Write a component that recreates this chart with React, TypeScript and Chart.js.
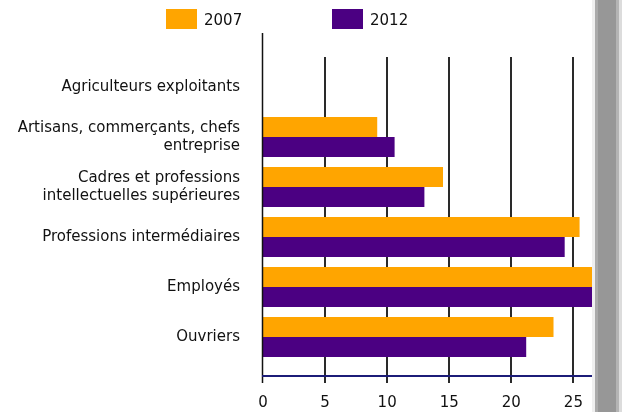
import React, { useEffect, useRef } from 'react';
import { Chart, registerables } from 'chart.js';

Chart.register(...registerables);

const categories: (string | string[])[] = [
  'Agriculteurs exploitants',
  ['Artisans, commerçants, chefs', 'entreprise'],
  ['Cadres et professions', 'intellectuelles supérieures'],
  'Professions intermédiaires',
  'Employés',
  'Ouvriers',
];
const values2007 = [0, 9.2, 14.5, 25.5, 27.5, 23.4];
const values2012 = [0, 10.6, 13.0, 24.3, 27.5, 21.2];
const seriesLabels = ['2007', '2012'];
const seriesColors = ['#FFA500', '#4B0082'];
const xTickValues = [0, 5, 10, 15, 20, 25];
const xMax = 26.5;

const FONT = 'DejaVu Sans, Verdana, sans-serif';

const gridPlugin = {
  id: 'customGrid',
  beforeDatasetsDraw(chart: any) {
    const { ctx, chartArea, scales } = chart;
    const x = scales.x;
    ctx.save();
    ctx.strokeStyle = '#2a2a2a';
    ctx.lineWidth = 2;
    xTickValues.forEach((v) => {
      if (v === 0) return;
      const px = Math.round(x.getPixelForValue(v));
      ctx.beginPath();
      ctx.moveTo(px, chartArea.top - 5);
      ctx.lineTo(px, chartArea.bottom + 21);
      ctx.stroke();
    });
    ctx.restore();
  },
  afterDatasetsDraw(chart: any) {
    const { ctx, chartArea, scales } = chart;
    const x = scales.x;
    ctx.save();
    const p0 = Math.round(x.getPixelForValue(0));
    ctx.strokeStyle = '#111';
    ctx.lineWidth = 1.5;
    ctx.beginPath();
    ctx.moveTo(p0 - 0.5, chartArea.top - 29);
    ctx.lineTo(p0 - 0.5, chartArea.bottom + 21);
    ctx.stroke();
    ctx.strokeStyle = '#1c1c78';
    ctx.lineWidth = 2;
    ctx.beginPath();
    ctx.moveTo(p0 - 1, chartArea.bottom + 14);
    ctx.lineTo(chartArea.right, chartArea.bottom + 14);
    ctx.stroke();
    ctx.restore();
  },
};

export default function App() {
  const ref = useRef<HTMLCanvasElement | null>(null);

  useEffect(() => {
    if (!ref.current) return;
    const chart = new Chart(ref.current, {
      type: 'bar',
      data: {
        labels: categories as any,
        datasets: [
          {
            label: seriesLabels[0],
            data: values2007,
            backgroundColor: seriesColors[0],
            borderWidth: 0,
            barPercentage: 1,
            categoryPercentage: 0.8,
          },
          {
            label: seriesLabels[1],
            data: values2012,
            backgroundColor: seriesColors[1],
            borderWidth: 0,
            barPercentage: 1,
            categoryPercentage: 0.8,
          },
        ],
      },
      options: {
        indexAxis: 'y',
        responsive: false,
        animation: false,
        devicePixelRatio: 1,
        layout: { padding: { top: 62, left: 0, right: 0, bottom: 0 } },
        plugins: {
          legend: { display: false },
          tooltip: { enabled: false },
        },
        scales: {
          x: {
            type: 'linear',
            min: 0,
            max: xMax,
            grid: { display: false, drawTicks: false },
            border: { display: false },
            ticks: {
              stepSize: 5,
              padding: 32,
              color: '#111',
              font: { family: FONT, size: 15 },
            },
            afterBuildTicks: (scale: any) => {
              scale.ticks = xTickValues.map((v) => ({ value: v }));
            },
            afterFit: (scale: any) => {
              scale.height = 50;
              scale.paddingLeft = 0;
              scale.paddingRight = 0;
            },
          },
          y: {
            type: 'category',
            grid: { display: false, drawTicks: false },
            border: { display: false },
            ticks: {
              padding: 23,
              color: '#111',
              autoSkip: false,
              font: { family: FONT, size: 15, lineHeight: 1.2 },
            },
            afterFit: (scale: any) => {
              scale.width = 263;
              scale.paddingTop = 0;
              scale.paddingBottom = 0;
            },
          },
        },
      },
      plugins: [gridPlugin],
    });
    return () => chart.destroy();
  }, []);

  const legendText: React.CSSProperties = {
    position: 'absolute',
    fontFamily: FONT,
    fontSize: 15,
    lineHeight: '20px',
    color: '#111',
  };

  return (
    <div
      style={{
        position: 'fixed',
        left: 0,
        top: 0,
        width: 622,
        height: 412,
        background: '#fff',
        overflow: 'hidden',
      }}
    >
      <canvas
        ref={ref}
        width={592}
        height={412}
        style={{ position: 'absolute', left: 0, top: 0, width: 592, height: 412 }}
      />
      <div style={{ position: 'absolute', left: 166, top: 9, width: 31, height: 20, background: seriesColors[0] }} />
      <div style={{ ...legendText, left: 204, top: 10 }}>{seriesLabels[0]}</div>
      <div style={{ position: 'absolute', left: 332, top: 9, width: 31, height: 20, background: seriesColors[1] }} />
      <div style={{ ...legendText, left: 370, top: 10 }}>{seriesLabels[1]}</div>
      <div style={{ position: 'absolute', left: 592, top: 0, width: 3, height: 412, background: '#efefef' }} />
      <div style={{ position: 'absolute', left: 595, top: 0, width: 3, height: 412, background: '#aaaaaa' }} />
      <div style={{ position: 'absolute', left: 598, top: 0, width: 18, height: 412, background: '#979797' }} />
      <div style={{ position: 'absolute', left: 616, top: 0, width: 3, height: 412, background: '#b4b4b4' }} />
      <div style={{ position: 'absolute', left: 619, top: 0, width: 3, height: 412, background: '#dcdcdc' }} />
    </div>
  );
}
